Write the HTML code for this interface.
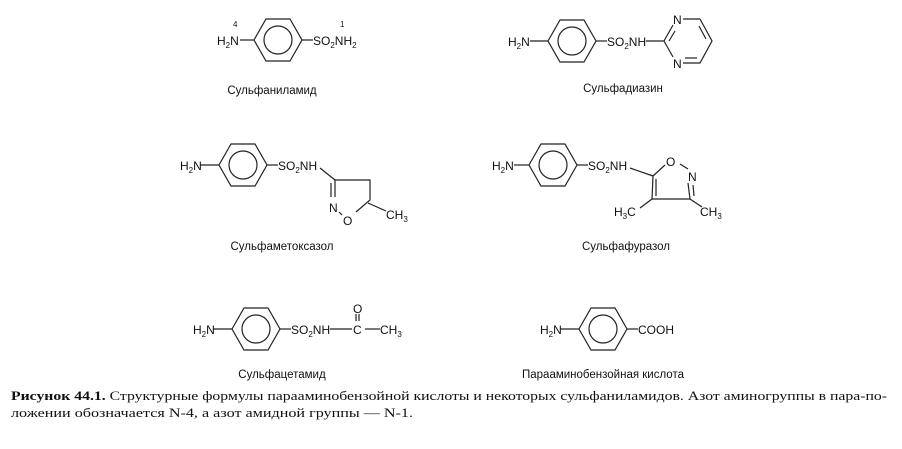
<!DOCTYPE html>
<html><head><meta charset="utf-8"><style>
html,body{margin:0;padding:0;background:#fff;}
svg{display:block}
text{font-family:"Liberation Sans",sans-serif;fill:#111;}
.f{font-size:12px;}
.l{font-size:11.5px;}
.s{font-size:8px;}
.c{font-family:"Liberation Serif",serif;font-size:13px;}
</style></head><body>
<svg width="902" height="449" viewBox="0 0 902 449" xmlns="http://www.w3.org/2000/svg">
<defs>
<g id="bz" fill="none" stroke="#222" stroke-width="1.2">
<polygon points="-24,0 -12,-21 12,-21 24,0 12,21 -12,21"/>
<circle r="14"/>
</g>
</defs>
<g stroke="#222" stroke-width="1.2" fill="none">
<!-- 1 -->
<line x1="240" y1="40" x2="254" y2="40"/><line x1="302" y1="40" x2="313" y2="40"/>
<!-- 2 -->
<line x1="530" y1="41" x2="548" y2="41"/><line x1="596" y1="41" x2="607" y2="41"/>
<line x1="646" y1="41" x2="664" y2="41"/>
<line x1="664" y1="41" x2="673" y2="25"/><line x1="664" y1="41" x2="673" y2="57"/>
<line x1="683" y1="19" x2="700" y2="19"/>
<polyline points="700,19 712,41 700,63 683,63"/>
<line x1="699" y1="26" x2="706" y2="39"/>
<line x1="685" y1="58" x2="697" y2="58"/>
<line x1="669" y1="41" x2="675" y2="31"/>
<!-- 3 -->
<line x1="200" y1="165" x2="219" y2="165"/><line x1="267" y1="165" x2="278" y2="165"/>
<line x1="320" y1="168" x2="335" y2="180"/>
<polyline points="335,180 370,180 370,200 356,212"/>
<line x1="335" y1="180" x2="335" y2="197"/><line x1="331" y1="183" x2="331" y2="197"/>
<line x1="339" y1="212" x2="342" y2="215"/>
<line x1="368" y1="203" x2="386" y2="211"/>
<!-- 4 -->
<line x1="514" y1="165" x2="529" y2="165"/><line x1="577" y1="165" x2="588" y2="165"/>
<line x1="630" y1="168" x2="653" y2="176"/>
<line x1="653" y1="176" x2="665" y2="165"/>
<line x1="680" y1="164" x2="688" y2="169"/>
<polyline points="653,176 652,199 690,199 688,183"/>
<line x1="656" y1="179" x2="656" y2="196"/><line x1="693" y1="185" x2="694" y2="196"/>
<line x1="652" y1="199" x2="640" y2="208"/><line x1="690" y1="199" x2="702" y2="207"/>
<!-- 5 -->
<line x1="213" y1="329" x2="232" y2="329"/><line x1="280" y1="329" x2="291" y2="329"/>
<line x1="330" y1="329" x2="352" y2="329"/><line x1="365" y1="329" x2="380" y2="329"/>
<line x1="356" y1="314" x2="356" y2="321"/><line x1="359" y1="314" x2="359" y2="321"/>
<!-- 6 -->
<line x1="560" y1="329" x2="579" y2="329"/><line x1="627" y1="329" x2="638" y2="329"/>
</g>
<use href="#bz" x="278" y="40"/>
<use href="#bz" x="572" y="41"/>
<use href="#bz" x="243" y="165"/>
<use href="#bz" x="553" y="165"/>
<use href="#bz" x="256" y="329"/>
<use href="#bz" x="603" y="329"/>

<!-- labels 1 -->
<text class="f" x="217" y="45">H<tspan class="s" dy="3">2</tspan><tspan dy="-3">N</tspan></text>
<text class="s" x="233" y="27">4</text>
<text class="f" x="313" y="45">SO<tspan class="s" dy="3">2</tspan><tspan dy="-3">NH</tspan><tspan class="s" dy="3">2</tspan></text>
<text class="s" x="340" y="27">1</text>
<text class="l" x="272" y="94" text-anchor="middle">Сульфаниламид</text>
<!-- 2 -->
<text class="f" x="508" y="46">H<tspan class="s" dy="3">2</tspan><tspan dy="-3">N</tspan></text>
<text class="f" x="607" y="46">SO<tspan class="s" dy="3">2</tspan><tspan dy="-3">NH</tspan></text>
<text class="f" x="673" y="24">N</text>
<text class="f" x="673" y="68">N</text>
<text class="l" x="623" y="92" text-anchor="middle">Сульфадиазин</text>
<!-- 3 -->
<text class="f" x="180" y="170">H<tspan class="s" dy="3">2</tspan><tspan dy="-3">N</tspan></text>
<text class="f" x="278" y="170">SO<tspan class="s" dy="3">2</tspan><tspan dy="-3">NH</tspan></text>
<text class="f" x="329" y="212">N</text>
<text class="f" x="343" y="225">O</text>
<text class="f" x="386" y="219">CH<tspan class="s" dy="3">3</tspan></text>
<text class="l" x="282" y="250" text-anchor="middle">Сульфаметоксазол</text>
<!-- 4 -->
<text class="f" x="492" y="170">H<tspan class="s" dy="3">2</tspan><tspan dy="-3">N</tspan></text>
<text class="f" x="588" y="170">SO<tspan class="s" dy="3">2</tspan><tspan dy="-3">NH</tspan></text>
<text class="f" x="666" y="166">O</text>
<text class="f" x="688" y="181">N</text>
<text class="f" x="614" y="216">H<tspan class="s" dy="3">3</tspan><tspan dy="-3">C</tspan></text>
<text class="f" x="700" y="216">CH<tspan class="s" dy="3">3</tspan></text>
<text class="l" x="626" y="250" text-anchor="middle">Сульфафуразол</text>
<!-- 5 -->
<text class="f" x="193" y="334">H<tspan class="s" dy="3">2</tspan><tspan dy="-3">N</tspan></text>
<text class="f" x="291" y="334">SO<tspan class="s" dy="3">2</tspan><tspan dy="-3">NH</tspan></text>
<text class="f" x="353" y="334">C</text>
<text class="f" x="353" y="313">O</text>
<text class="f" x="380" y="334">CH<tspan class="s" dy="3">3</tspan></text>
<text class="l" x="282" y="378" text-anchor="middle">Сульфацетамид</text>
<!-- 6 -->
<text class="f" x="540" y="334">H<tspan class="s" dy="3">2</tspan><tspan dy="-3">N</tspan></text>
<text class="f" x="638" y="334">COOH</text>
<text class="l" x="603" y="378" text-anchor="middle">Парааминобензойная кислота</text>
<!-- caption -->
<text class="c" x="11" y="400" textLength="876" lengthAdjust="spacingAndGlyphs"><tspan font-weight="bold">Рисунок 44.1.</tspan> Структурные формулы парааминобензойной кислоты и некоторых сульфаниламидов. Азот аминогруппы в пара-по-</text>
<text class="c" x="11" y="417" textLength="402" lengthAdjust="spacingAndGlyphs">ложении обозначается N-4, а азот амидной группы — N-1.</text>
</svg>
</body></html>
